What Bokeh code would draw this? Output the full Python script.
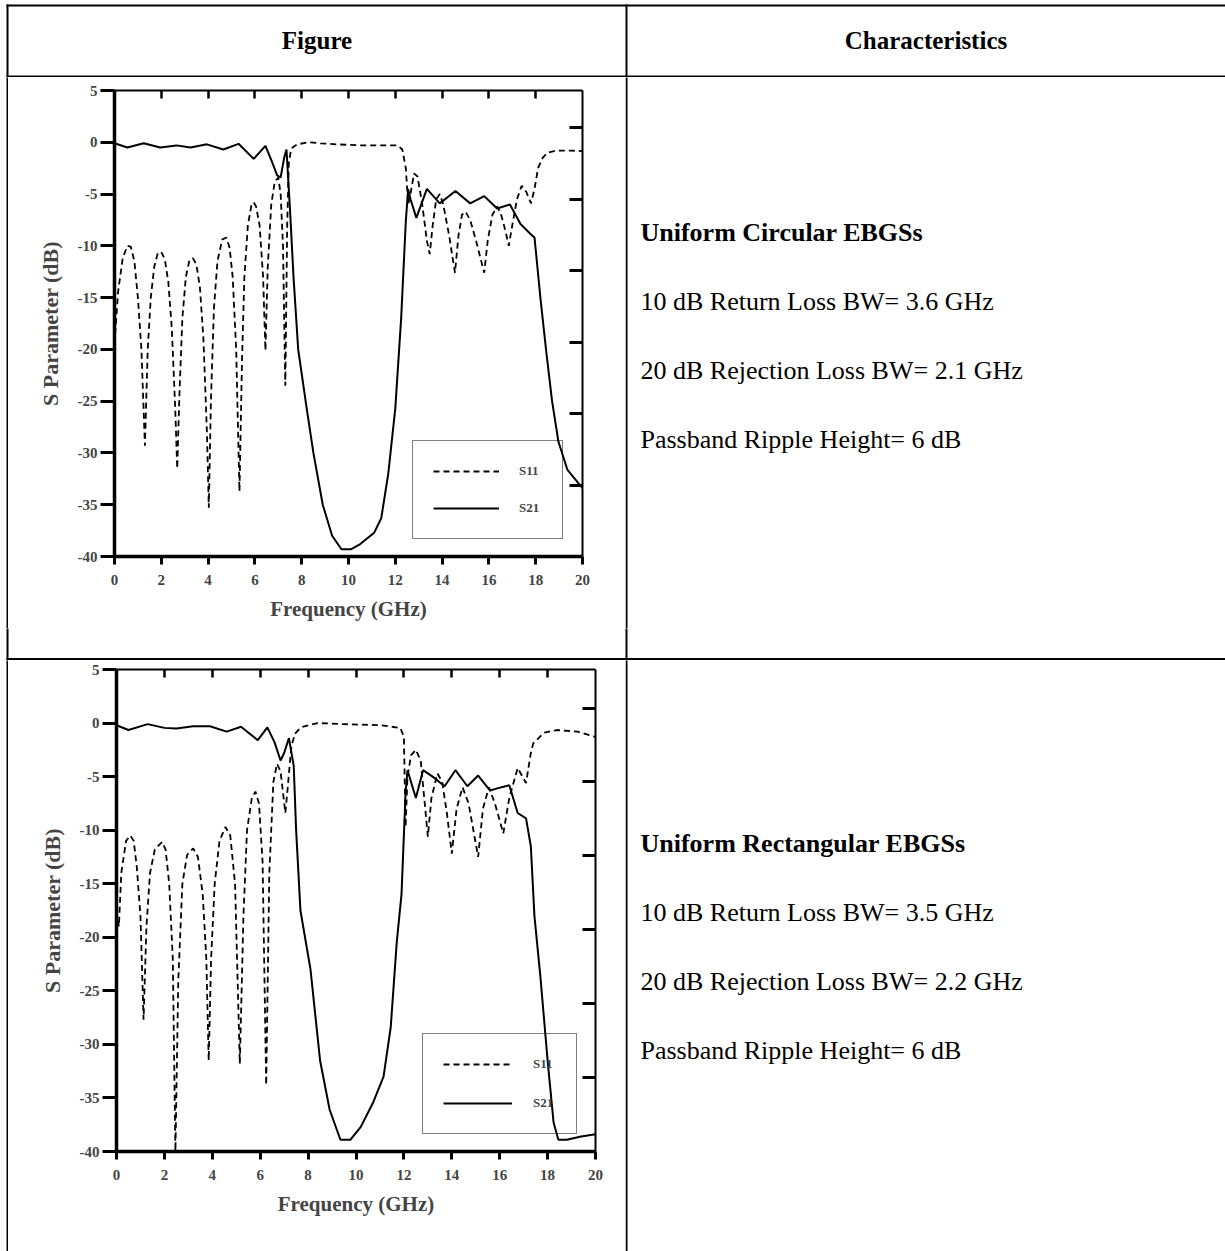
from bokeh.plotting import figure
from bokeh.layouts import column, row
from bokeh.models import Range1d, LinearAxis, FixedTicker, Legend, LegendItem
from bokeh.embed import file_html
from bokeh.resources import INLINE
from bokeh.core.properties import value

# ---------------- data ----------------
# Uniform circular EBGS
circ_s11_f = [0.0, 0.15, 0.35, 0.55, 0.7, 0.85, 1.0, 1.15, 1.3, 1.42, 1.55, 1.7, 1.85, 2.0, 2.15, 2.3,
              2.45, 2.6, 2.68, 2.78, 2.9, 3.05, 3.2, 3.35, 3.5, 3.65, 3.8, 3.95, 4.03, 4.12, 4.25, 4.4,
              4.6, 4.78, 4.92, 5.05, 5.2, 5.34, 5.45, 5.55, 5.7, 5.85, 5.95, 6.05, 6.2, 6.35, 6.45, 6.55,
              6.7, 6.85, 7.0, 7.1, 7.2, 7.3, 7.38, 7.45, 7.55, 7.8, 8.3, 8.8, 9.5, 10.5, 11.5, 12.1,
              12.3, 12.45, 12.55, 12.65, 12.8, 12.95, 13.15, 13.35, 13.47, 13.6, 13.75, 13.9, 14.05, 14.3,
              14.55, 14.7, 14.85, 15.0, 15.2, 15.45, 15.8, 15.95, 16.15, 16.35, 16.5, 16.7, 16.85, 17.0,
              17.2, 17.4, 17.6, 17.8, 17.95, 18.1, 18.3, 18.5, 18.9, 19.5, 20.0]
circ_s11_db = [-19.5, -14.5, -11.2, -10.0, -10.1, -11.5, -15.0, -20.0, -29.3, -20.0, -15.0, -12.0, -10.7, -10.6, -11.3, -13.5,
               -18.0, -26.0, -31.5, -24.0, -17.0, -13.0, -11.4, -11.2, -11.8, -14.0, -19.0, -28.0, -35.3, -25.0, -16.0, -11.5,
               -9.4, -9.2, -10.2, -13.0, -20.0, -33.7, -21.0, -13.0, -8.0, -6.1, -5.8, -6.2, -8.0, -13.0, -20.1, -12.0,
               -6.0, -3.8, -3.4, -5.0, -10.0, -23.5, -8.0, -2.0, -0.6, -0.2, 0.0, -0.1, -0.2, -0.3, -0.3, -0.3,
               -0.7, -2.5, -6.0, -5.0, -3.0, -3.3, -6.0, -9.5, -10.8, -8.0, -5.5, -5.0, -6.0, -9.0,
               -12.6, -9.0, -7.0, -6.7, -7.5, -9.5, -12.6, -9.5, -7.0, -6.2, -6.8, -8.5, -10.0, -8.0,
               -5.5, -4.2, -4.8, -5.9, -4.5, -2.5, -1.5, -1.0, -0.8, -0.8, -0.85]
circ_s21_f = [0.0, 0.55, 1.25, 1.95, 2.65, 3.25, 3.95, 4.65, 5.3, 5.95, 6.45, 6.75, 6.95, 7.1, 7.25, 7.35,
              7.5, 7.65, 7.85, 8.2, 8.5, 8.9, 9.3, 9.7, 10.1, 10.5, 11.1, 11.4, 11.7, 12.0, 12.25, 12.45,
              12.55, 12.65, 12.9, 13.35, 13.9, 14.57, 15.2, 15.8, 16.35, 16.9, 17.35, 17.8, 17.95, 18.2,
              18.45, 18.7, 18.97, 19.35, 20.0]
circ_s21_db = [-0.1, -0.5, -0.1, -0.5, -0.3, -0.5, -0.2, -0.7, -0.15, -1.6, -0.35, -2.0, -3.2, -3.4, -1.5, -0.7,
               -6.5, -13.0, -20.0, -25.5, -30.0, -35.0, -38.0, -39.3, -39.3, -38.8, -37.7, -36.3, -32.0, -25.7, -17.0, -7.6,
               -4.5, -5.5, -7.3, -4.5, -5.9, -4.7, -5.9, -5.2, -6.4, -6.0, -7.9, -8.9, -9.2, -15.0,
               -20.2, -25.0, -28.9, -31.6, -33.4]

# Uniform rectangular EBGS
rect_s11_f = [0.0, 0.1, 0.2, 0.4, 0.58, 0.72, 0.85, 1.0, 1.13, 1.25, 1.4, 1.6, 1.9, 2.05, 2.2, 2.35,
              2.46, 2.58, 2.75, 2.95, 3.2, 3.4, 3.6, 3.75, 3.85, 3.95, 4.1, 4.3, 4.55, 4.75, 4.95, 5.15,
              5.3, 5.45, 5.65, 5.8, 5.95, 6.1, 6.25, 6.38, 6.55, 6.7, 6.85, 7.05, 7.15, 7.3, 7.45, 7.7,
              8.4, 9.5, 11.0, 11.85, 12.0, 12.07, 12.15, 12.3, 12.5, 12.7, 12.85, 13.0, 13.15, 13.4,
              13.6, 13.8, 14.0, 14.2, 14.45, 14.7, 14.9, 15.1, 15.3, 15.55, 15.8, 16.15, 16.4, 16.75,
              16.9, 17.1, 17.3, 17.4, 17.85, 18.4, 19.25, 20.0]
rect_s11_db = [-17.5, -19.0, -14.0, -11.0, -10.5, -11.0, -13.5, -18.0, -27.7, -19.0, -14.0, -11.8, -11.1, -11.8, -15.0, -22.0,
               -40.0, -24.0, -15.0, -12.3, -11.7, -12.5, -16.0, -22.0, -31.5, -22.0, -15.0, -11.0, -9.7, -10.5, -15.0, -31.8,
               -18.0, -10.0, -7.0, -6.4, -7.5, -13.0, -33.8, -14.0, -5.5, -3.8, -4.5, -8.4, -6.0, -2.2, -1.0, -0.4,
               0.0, -0.1, -0.2, -0.45, -1.3, -9.7, -5.0, -3.0, -2.5, -3.5, -7.0, -10.6, -7.0, -4.7,
               -5.5, -8.5, -12.2, -8.0, -6.0, -7.5, -10.0, -12.5, -8.0, -6.0, -7.5, -10.3, -7.0, -4.2,
               -4.8, -5.6, -2.8, -1.9, -0.9, -0.65, -0.8, -1.3]
rect_s21_f = [0.0, 0.5, 1.3, 2.0, 2.5, 3.2, 3.9, 4.6, 5.2, 5.9, 6.3, 6.6, 6.85, 7.0, 7.2, 7.4,
              7.5, 7.68, 8.1, 8.5, 8.9, 9.35, 9.77, 10.2, 10.7, 11.15, 11.45, 11.7, 11.9, 12.07, 12.15, 12.5,
              12.8, 13.2, 13.7, 14.15, 14.65, 15.1, 15.6, 15.9, 16.4, 16.75, 17.1, 17.3, 17.45, 17.7,
              18.0, 18.25, 18.45, 18.8, 19.4, 20.0]
rect_s21_db = [-0.2, -0.65, -0.1, -0.45, -0.5, -0.3, -0.3, -0.8, -0.35, -1.6, -0.4, -1.8, -3.5, -2.8, -1.4, -4.0,
               -10.0, -17.5, -23.0, -31.5, -36.1, -38.9, -38.9, -37.7, -35.5, -33.0, -28.4, -20.5, -16.0, -6.5, -4.4, -7.0,
               -4.4, -5.0, -5.9, -4.4, -5.9, -4.9, -6.3, -6.1, -5.8, -8.4, -8.9, -11.5, -18.0, -23.7,
               -31.5, -37.3, -38.9, -38.9, -38.6, -38.4]

series_names = ["S11", "S21"]
x_ticks = [0, 2, 4, 6, 8, 10, 12, 14, 16, 18, 20]
x_tick_labels = ["0", "2", "4", "6", "8", "10", "12", "14", "16", "18", "20"]
y_ticks = [5, 0, -5, -10, -15, -20, -25, -30, -35, -40]
y_tick_labels = ["5", "0", "-5", "-10", "-15", "-20", "-25", "-30", "-35", "-40"]
top_ticks = [2, 4, 6, 8, 10, 12, 14, 16, 18]
right_ticks = [1.4, -5.5, -12.4, -19.3, -26.2, -33.1]

header_labels = ["Figure", "Characteristics"]
circ_title = "Uniform Circular EBGSs"
circ_lines = ["10 dB Return Loss BW= 3.6 GHz", "20 dB Rejection Loss BW= 2.1 GHz", "Passband Ripple Height= 6 dB"]
rect_title = "Uniform Rectangular EBGSs"
rect_lines = ["10 dB Return Loss BW= 3.5 GHz", "20 dB Rejection Loss BW= 2.2 GHz", "Passband Ripple Height= 6 dB"]

# ---------------- style / layout ----------------
SERIF = "Liberation Serif"
PAGE_W = 1225
DIV_X = 626
LEFT_X = 7
RULE_W = 2
OVER = 4  # vertical rules run past their cell so joins show no gap
HEAD_SIZE = "25px"
TEXT_SIZE = "26px"


def blank(w, h, x0, y0):
    p = figure(width=w, height=h, x_range=Range1d(x0, x0 + w), y_range=Range1d(y0 + h, y0),
               x_axis_type=None, y_axis_type=None, output_backend="svg", toolbar_location=None,
               min_border=0, outline_line_color=None, frame_align=False,
               background_fill_color="white", border_fill_color="white")
    return p


def rule(p, x0, y0, x1, y1):
    p.segment(x0=[x0], y0=[y0], x1=[x1], y1=[y1], line_color="black", line_width=RULE_W)


def chart(f11, s11, f21, s21, w, h, left, right, top, bottom, leg_loc, glyph_w, standoff, spacing):
    p = figure(width=w, height=h, x_range=Range1d(0, 20), y_range=Range1d(-40, 5),
               output_backend="svg", toolbar_location=None, frame_align=False,
               min_border_left=left, min_border_right=right, min_border_top=top, min_border_bottom=bottom,
               outline_line_color=None, background_fill_color="white", border_fill_color="white")
    p.grid.visible = False
    r11 = p.line(f11, s11, line_color="black", line_width=1.8, line_dash="6 4")
    r21 = p.line(f21, s21, line_color="black", line_width=2.0)

    xa = p.xaxis[0]
    xa.ticker = FixedTicker(ticks=x_ticks)
    xa.major_label_overrides = dict(zip(x_ticks, x_tick_labels))
    xa.axis_line_width = 3.5
    xa.major_tick_line_width = 3
    xa.major_tick_in = 0
    xa.major_tick_out = 8
    xa.minor_tick_line_color = None
    xa.major_label_standoff = 10
    xa.major_label_text_font = SERIF
    xa.major_label_text_font_style = "bold"
    xa.major_label_text_font_size = "15px"
    xa.axis_label = "Frequency (GHz)"
    xa.axis_label_text_font = SERIF
    xa.axis_label_text_font_style = "bold"
    xa.axis_label_text_font_size = "21px"
    xa.axis_label_standoff = 9

    ya = p.yaxis[0]
    ya.ticker = FixedTicker(ticks=y_ticks)
    ya.major_label_overrides = dict(zip(y_ticks, y_tick_labels))
    ya.axis_line_width = 3.5
    ya.major_tick_line_width = 3
    ya.major_tick_in = 0
    ya.major_tick_out = 14
    ya.minor_tick_line_color = None
    ya.major_label_standoff = 3
    ya.major_label_text_font = SERIF
    ya.major_label_text_font_style = "bold"
    ya.major_label_text_font_size = "15px"
    ya.axis_label = "S Parameter (dB)"
    ya.axis_label_text_font = SERIF
    ya.axis_label_text_font_style = "bold"
    ya.axis_label_text_font_size = "22px"
    ya.axis_label_standoff = 12

    top_ax = LinearAxis(ticker=FixedTicker(ticks=top_ticks), axis_line_width=2,
                        major_tick_in=8, major_tick_out=0, major_tick_line_width=2.5,
                        minor_tick_line_color=None, major_label_text_font_size="0px",
                        major_label_text_alpha=0, major_label_standoff=0)
    right_ax = LinearAxis(ticker=FixedTicker(ticks=right_ticks), axis_line_width=2,
                          major_tick_in=13, major_tick_out=0, major_tick_line_width=3,
                          minor_tick_line_color=None, major_label_text_font_size="0px",
                          major_label_text_alpha=0, major_label_standoff=0)
    p.add_layout(top_ax, "above")
    p.add_layout(right_ax, "right")

    legend = Legend(items=[LegendItem(label=series_names[0], renderers=[r11]),
                           LegendItem(label=series_names[1], renderers=[r21])],
                    location=leg_loc, orientation="vertical",
                    border_line_color="black", border_line_width=1.5,
                    background_fill_alpha=0, margin=0, padding=20,
                    glyph_width=glyph_w, glyph_height=20, label_standoff=standoff,
                    label_width=23, label_height=20, spacing=spacing,
                    label_text_font=SERIF, label_text_font_style="bold", label_text_font_size="13px")
    p.add_layout(legend)
    return p


def text_cell(y0, h, title, lines, title_y, gap):
    p = blank(PAGE_W - 625, h, 625, y0)
    rule(p, DIV_X, y0 - OVER, DIV_X, y0 + h + OVER)
    p.text(x=[640], y=[title_y], text=[title], text_font=value(SERIF), text_font_style="bold",
           text_font_size=TEXT_SIZE, text_baseline="middle", text_align="left", text_color="black")
    ys = [title_y + gap * (i + 1) for i in range(len(lines))]
    p.text(x=[640] * len(lines), y=ys, text=lines, text_font=value(SERIF), text_font_style="normal",
           text_font_size=TEXT_SIZE, text_baseline="middle", text_align="left", text_color="black")
    return p


# header row: page y 0..77
HDR_H = 77
hdr = blank(PAGE_W, HDR_H, 0, 0)
rule(hdr, LEFT_X - 1, 5, PAGE_W, 5)
rule(hdr, LEFT_X - 1, 76, PAGE_W, 76)
rule(hdr, LEFT_X, 4, LEFT_X, HDR_H + OVER)
rule(hdr, DIV_X, 4, DIV_X, HDR_H + OVER)
hdr.text(x=[(LEFT_X + DIV_X) / 2, (DIV_X + PAGE_W) / 2], y=[40, 40], text=header_labels,
         text_font=value(SERIF), text_font_style="bold", text_font_size=HEAD_SIZE,
         text_baseline="middle", text_align="center", text_color="black")

# row 1: page y 77..628
R1_Y, R1_H = 77, 551
edge1 = blank(8, R1_H, 0, R1_Y)
rule(edge1, LEFT_X, R1_Y - OVER, LEFT_X, R1_Y + R1_H + OVER)
ch1 = chart(circ_s11_f, circ_s11_db, circ_s21_f, circ_s21_db, 617, R1_H, 106, 43, 13, 72,
            (298, 17), 66, 20, 17)
tx1 = text_cell(R1_Y, R1_H, circ_title, circ_lines, 232, 69)

# band holding the horizontal rule between the rows: page y 628..660, rule at 658.5
HL_Y, HL_H = 628, 32
hl = blank(PAGE_W, HL_H, 0, HL_Y)
rule(hl, LEFT_X - 1, 658.5, PAGE_W, 658.5)
rule(hl, LEFT_X, HL_Y - OVER, LEFT_X, HL_Y + HL_H + OVER)
rule(hl, DIV_X, HL_Y - OVER, DIV_X, HL_Y + HL_H + OVER)

# row 2: page y 660..1251
R2_Y, R2_H = 660, 591
edge2 = blank(8, R2_H, 0, R2_Y)
rule(edge2, LEFT_X, R2_Y - OVER, LEFT_X, R2_Y + R2_H + OVER)
ch2 = chart(rect_s11_f, rect_s11_db, rect_s21_f, rect_s21_db, 617, R2_H, 108, 30, 9, 100,
            (306, 17), 69, 21, 19)
tx2 = text_cell(R2_Y, R2_H, rect_title, rect_lines, 843, 69)

page = column(hdr, row(edge1, ch1, tx1), hl, row(edge2, ch2, tx2))

open("out.html", "w").write(file_html(page, INLINE))
